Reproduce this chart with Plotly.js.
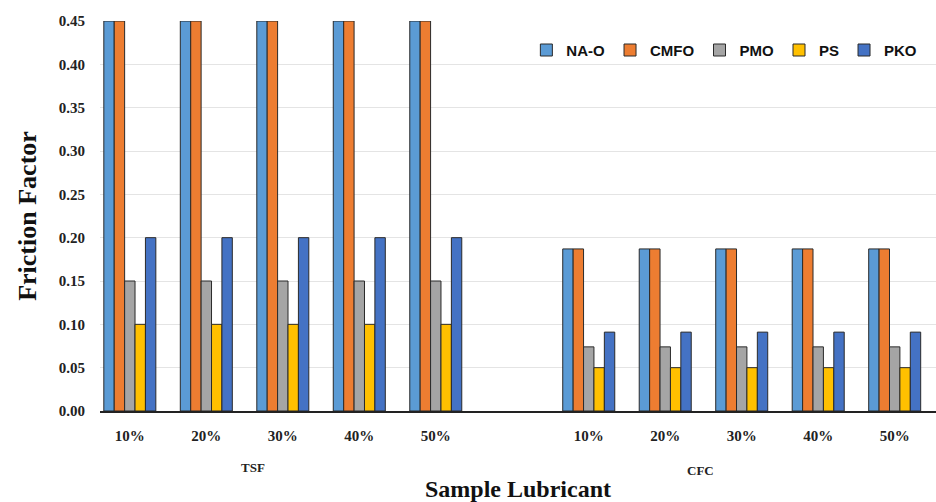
<!DOCTYPE html>
<html>
<head>
<meta charset="utf-8">
<script src="https://cdn.plot.ly/plotly-3.0.1.min.js"></script>
<style>html,body{margin:0;padding:0;background:#fff;}#chart{width:936px;height:502px;}</style>
</head>
<body>
<div id="chart"></div>
<script>
// ---- data ----
const groups = ["TSF", "CFC"];
const levels = ["10%", "20%", "30%", "40%", "50%"];
const seriesNames = ["NA-O", "CMFO", "PMO", "PS", "PKO"];
const naO  = [0.45, 0.45, 0.45, 0.45, 0.45, 0.187, 0.187, 0.187, 0.187, 0.187];
const cmfo = [0.45, 0.45, 0.45, 0.45, 0.45, 0.187, 0.187, 0.187, 0.187, 0.187];
const pmo  = [0.15, 0.15, 0.15, 0.15, 0.15, 0.074, 0.074, 0.074, 0.074, 0.074];
const ps   = [0.10, 0.10, 0.10, 0.10, 0.10, 0.050, 0.050, 0.050, 0.050, 0.050];
const pko  = [0.20, 0.20, 0.20, 0.20, 0.20, 0.091, 0.091, 0.091, 0.091, 0.091];
const colors = ["#5B9BD5", "#ED7D31", "#A5A5A5", "#FFC000", "#4472C4"];

// ---- build categories (with an empty spacer between groups) ----
const ids = [];
const tickText = [];
groups.forEach(g => levels.forEach(l => { ids.push(g + " " + l); tickText.push(l); }));
const catOrder = ids.slice(0, 5).concat(["spacer"]).concat(ids.slice(5));

const allSeries = [naO, cmfo, pmo, ps, pko];
const traces = allSeries.map((vals, i) => ({
  type: "bar",
  name: seriesNames[i],
  x: ids,
  y: vals,
  marker: {color: colors[i], line: {color: "#2a2a2a", width: 1}},
  hoverinfo: "y+name"
}));

const serif = "Liberation Serif, Times New Roman, serif";
const layout = {
  width: 936, height: 502,
  margin: {l: 100, r: 0, t: 21, b: 91},
  paper_bgcolor: "#fff", plot_bgcolor: "#fff",
  barmode: "group", bargap: 0.32, bargroupgap: 0,
  showlegend: true,
  legend: {orientation: "h", x: 0.51, xanchor: "left", y: 0.925, yanchor: "middle",
           font: {family: "Liberation Sans, Arial, sans-serif", size: 15, color: "#111", weight: "bold"},
           itemwidth: 30, traceorder: "normal", bgcolor: "rgba(0,0,0,0)"},
  xaxis: {
    type: "category", categoryorder: "array", categoryarray: catOrder,
    range: [-0.39, 10.54],
    tickvals: ids, ticktext: tickText,
    tickfont: {family: serif, size: 15, color: "#222", weight: "bold"},
    ticks: "", showgrid: false, zeroline: false,
    showline: true, linecolor: "#222", linewidth: 1.5,
    ticklabelstandoff: 10,
    title: {text: "Sample Lubricant", font: {family: serif, size: 24, color: "#111", weight: "bold"}, standoff: 46}
  },
  yaxis: {
    range: [0, 0.45], dtick: 0.05, tickformat: ".2f",
    tickfont: {family: serif, size: 15, color: "#222", weight: "bold"},
    showgrid: true, gridcolor: "#e4e4e4", gridwidth: 1,
    zeroline: false, showline: false, ticks: "",
    ticklabelstandoff: 14,
    title: {text: "Friction Factor", font: {family: serif, size: 26, color: "#111", weight: "bold"}, standoff: 14}
  },
  annotations: [
    {text: "TSF", xref: "paper", yref: "paper", x: (253 - 100) / 836, y: -0.145, xanchor: "center", yanchor: "middle",
     showarrow: false, font: {family: serif, size: 13, color: "#222", weight: "bold"}},
    {text: "CFC", xref: "paper", yref: "paper", x: (700 - 100) / 836, y: -0.152, xanchor: "center", yanchor: "middle",
     showarrow: false, font: {family: serif, size: 13, color: "#222", weight: "bold"}}
  ]
};

Plotly.newPlot("chart", traces, layout, {displayModeBar: false, responsive: false});
</script>
</body>
</html>
